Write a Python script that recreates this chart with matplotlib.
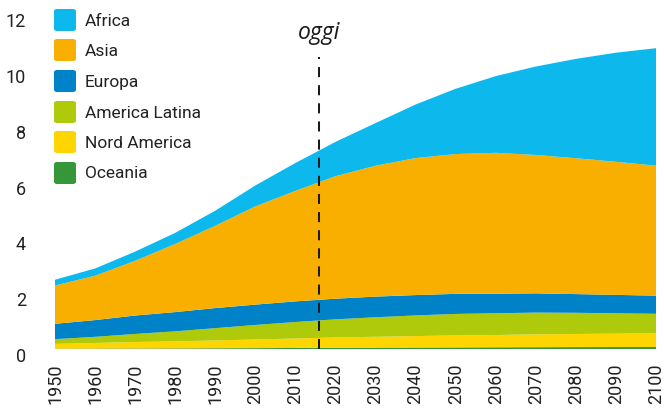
import matplotlib
matplotlib.use("Agg")
import matplotlib.pyplot as plt
from matplotlib.patches import FancyBboxPatch
from matplotlib.transforms import ScaledTranslation

# ---- data (billions of people) ----
years = [1950, 1960, 1970, 1980, 1990, 2000, 2010, 2020, 2030, 2040,
         2050, 2060, 2070, 2080, 2090, 2100]
oceania = [0.013, 0.016, 0.020, 0.023, 0.027, 0.031, 0.037, 0.043, 0.048,
           0.053, 0.057, 0.061, 0.065, 0.068, 0.070, 0.072]
nord_america = [0.17, 0.20, 0.23, 0.25, 0.28, 0.31, 0.34, 0.37, 0.39, 0.41,
                0.43, 0.44, 0.46, 0.47, 0.48, 0.49]
america_latina = [0.17, 0.22, 0.29, 0.36, 0.44, 0.52, 0.59, 0.65, 0.70, 0.74,
                  0.77, 0.78, 0.78, 0.76, 0.73, 0.70]
europa = [0.55, 0.60, 0.66, 0.69, 0.72, 0.73, 0.74, 0.74, 0.74, 0.73,
          0.72, 0.70, 0.69, 0.67, 0.66, 0.65]
asia = [1.37, 1.59, 1.96, 2.44, 2.95, 3.52, 3.96, 4.39, 4.69, 4.91,
        5.01, 5.05, 4.96, 4.87, 4.77, 4.66]
africa = [0.21, 0.26, 0.33, 0.40, 0.54, 0.75, 1.00, 1.23, 1.53, 1.92,
          2.34, 2.75, 3.17, 3.56, 3.91, 4.21]

labels_top_down = ["Africa", "Asia", "Europa", "America Latina",
                   "Nord America", "Oceania"]
colors_top_down = ["#0DB9EC", "#F8AF00", "#0082C8", "#AFCA0B",
                   "#FFD500", "#36963A"]

x_ticks = list(range(1950, 2101, 10))
y_ticks = [0, 2, 4, 6, 8, 10, 12]
today = 2016
today_label = "oggi"

# ---- figure ----
W, H = 664, 414
fig = plt.figure(figsize=(W / 100, H / 100), dpi=100)
zero_px = 350
unit_px = 27.9
top_px = zero_px - 12 * unit_px
ax = fig.add_axes([55 / W, (H - zero_px) / H, (656 - 55) / W,
                   (zero_px - top_px) / H])

series_bottom_up = [oceania, nord_america, america_latina, europa, asia, africa]
ax.stackplot(years, *series_bottom_up, colors=colors_top_down[::-1],
             linewidth=0, antialiased=True)

ax.set_xlim(1950, 2100)
ax.set_ylim(0, 12)
for s in ax.spines.values():
    s.set_visible(False)

font = "Roboto"
ax.set_xticks(x_ticks)
ax.set_xticklabels([str(y) for y in x_ticks], rotation=90, fontsize=13,
                   family=font, color="#222222", va="top")
ax.set_yticks(y_ticks)
ax.set_yticklabels([str(v) for v in y_ticks], fontsize=13, family=font,
                   color="#222222")
ax.tick_params(axis="both", length=0)
ax.tick_params(axis="x", pad=10)
ax.tick_params(axis="y", pad=21)
off = ScaledTranslation(0, -5 / 100, fig.dpi_scale_trans)
for lab in ax.get_yticklabels():
    lab.set_transform(lab.get_transform() + off)

# today marker
ax.vlines(today, 0, (zero_px - 58) / unit_px, colors="#1a1a1a",
          linestyles=(0, (5, 4)), linewidth=1.45, zorder=5)
ax.text(today, (zero_px - 33) / unit_px, today_label, ha="center",
        va="center", fontsize=16.5, style="italic", family="Open Sans",
        color="#1a1a1a")

# legend
row_y = [21, 51, 82, 113, 143, 174]
for lab, col, yc in zip(labels_top_down, colors_top_down, row_y):
    sz = 22
    p = FancyBboxPatch((54 / W, (H - yc - sz / 2) / H), sz / W, sz / H,
                       boxstyle="round,pad=0,rounding_size=0.005",
                       transform=fig.transFigure, facecolor=col,
                       edgecolor="none")
    fig.patches.append(p)
    fig.text(85 / W, (H - yc) / H, lab, ha="left", va="center",
             fontsize=12.5, family=font, color="#222222")

fig.savefig("out.png", dpi=100)
